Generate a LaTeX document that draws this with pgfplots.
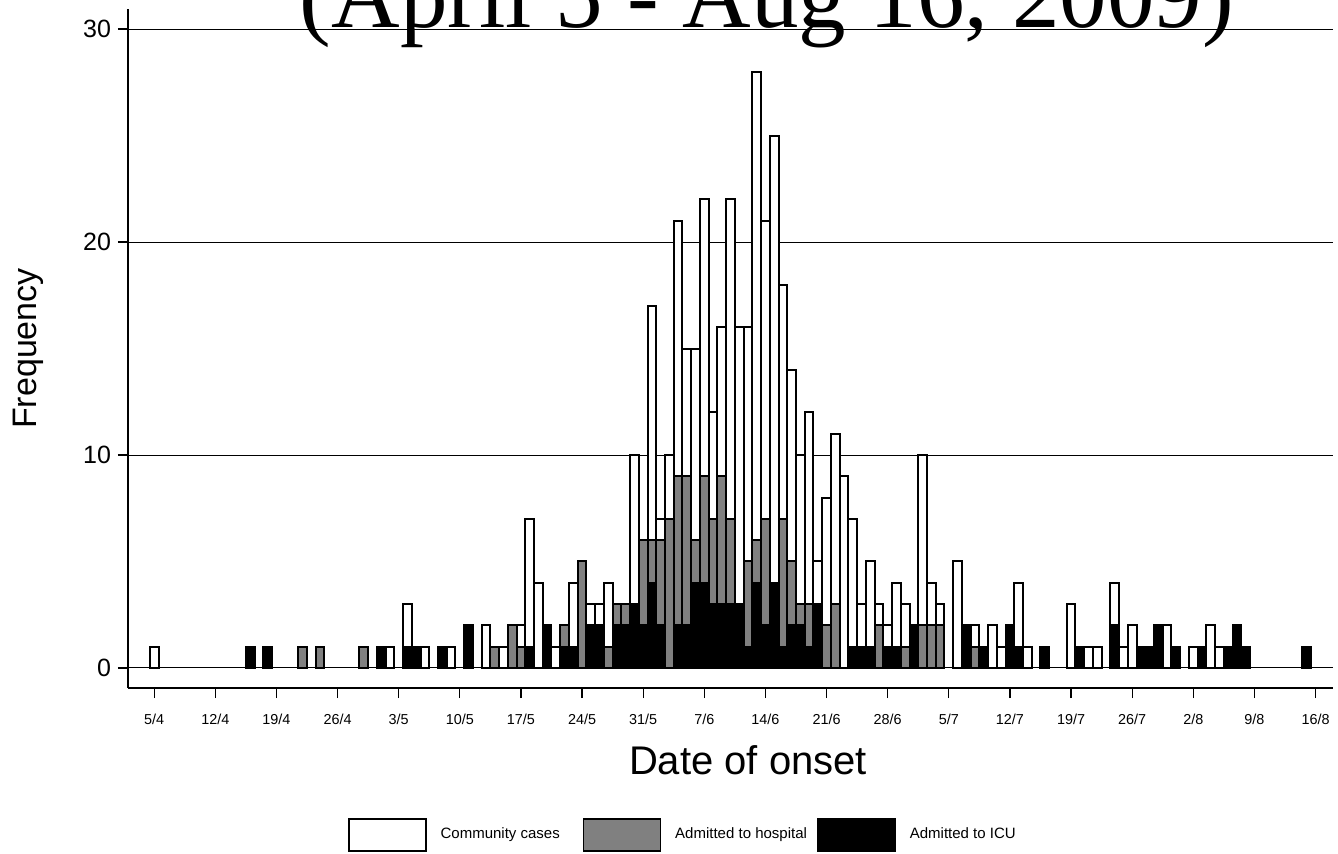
\documentclass[border=0pt]{standalone}
\usepackage{fontspec}
\setmainfont{Liberation Sans}
\newfontfamily\titlefont{Liberation Serif}
\usepackage{pgfplots}
\pgfplotsset{compat=1.18}
\definecolor{hospgray}{RGB}{128,128,128}
\begin{document}
\begin{tikzpicture}
\begin{axis}[
  at={(0,0)}, anchor=south west,
  scale only axis, width=602.5pt, height=339.5pt,
  xmin=-3, xmax=135, ymin=-0.94, ymax=30.94,
  axis x line*=bottom, axis y line*=left,
  axis line style={-, black, line width=0.65pt},
  xtick={0,7,...,133},
  xticklabels={5/4,12/4,19/4,26/4,3/5,10/5,17/5,24/5,31/5,7/6,14/6,21/6,28/6,5/7,12/7,19/7,26/7,2/8,9/8,16/8},
  ytick={0,10,20,30},
  ymajorgrids, grid style={black, line width=0.5pt},
  tick align=outside, major tick length=5pt,
  tick style={black, line width=0.65pt},
  x tick label style={font=\fontsize{7.2}{8}\selectfont, yshift=-4.5pt},
  y tick label style={font=\fontsize{12.5}{14}\selectfont},
  /pgf/number format/assume math mode=true,
  xlabel={Date of onset}, ylabel={Frequency},
  xlabel style={at={(axis description cs:0.5145,-0.106)}, anchor=center, font=\fontsize{20}{24}\selectfont},
  ylabel style={at={(axis description cs:-0.083,0.5)}, anchor=center, font=\fontsize{17}{20}\selectfont},
  legend style={at={(axis description cs:0.1826,-0.2165)}, anchor=west, draw=none, fill=none,
    inner sep=0pt, outer sep=0pt, legend columns=3, font=\fontsize{7.5}{9}\selectfont,
    /tikz/every odd column/.append style={column sep=5pt},
    /tikz/every even column/.append style={column sep=0pt}},
  legend cell align=left,
  legend image code/.code={\draw[#1, line width=0.8pt] (0pt,-8pt) rectangle (38.5pt,8pt);},
]
\addplot[ybar, bar width=1, bar shift=0pt, fill=white, draw=black, line width=1pt] coordinates {
(0,1) (11,1) (13,1) (17,1) (19,1) (24,1) (26,1) (27,1) (29,3) (30,1) (31,1) (33,1) (34,1) (36,2) (38,2) (39,1) (40,1) (41,2) (42,2) (43,7) (44,4) (45,2) (46,1) (47,2) (48,4) (49,5) (50,3) (51,3) (52,4) (53,3) (54,3) (55,10) (56,6) (57,17) (58,7) (59,10) (60,21) (61,15) (62,15) (63,22) (64,12) (65,16) (66,22) (67,16) (68,16) (69,28) (70,21) (71,25) (72,18) (73,14) (74,10) (75,12) (76,5) (77,8) (78,11) (79,9) (80,7) (81,3) (82,5) (83,3) (84,2) (85,4) (86,3) (87,2) (88,10) (89,4) (90,3) (92,5) (93,2) (94,2) (95,1) (96,2) (97,1) (98,2) (99,4) (100,1) (102,1) (105,3) (106,1) (107,1) (108,1) (110,4) (111,1) (112,2) (113,1) (114,1) (115,2) (116,2) (117,1) (119,1) (120,1) (121,2) (122,1) (123,1) (124,2) (125,1) (132,1)
};
\addlegendentry{\makebox[69pt][l]{Community cases}}
\addplot[ybar, bar width=1, bar shift=0pt, fill=hospgray, draw=black, line width=1pt] coordinates {
(11,1) (13,1) (17,1) (19,1) (24,1) (26,1) (29,1) (30,1) (33,1) (36,2) (39,1) (41,2) (42,1) (43,1) (45,2) (47,2) (48,1) (49,5) (50,2) (51,2) (52,1) (53,3) (54,3) (55,3) (56,6) (57,6) (58,6) (59,7) (60,9) (61,9) (62,6) (63,9) (64,7) (65,9) (66,7) (67,3) (68,5) (69,6) (70,7) (71,4) (72,7) (73,5) (74,3) (75,3) (76,3) (77,2) (78,3) (80,1) (81,1) (82,1) (83,2) (84,1) (85,1) (86,1) (87,2) (88,2) (89,2) (90,2) (93,2) (94,1) (95,1) (98,2) (99,1) (102,1) (106,1) (110,2) (113,1) (114,1) (115,2) (117,1) (120,1) (123,1) (124,2) (125,1) (132,1)
};
\addlegendentry{\makebox[69pt][l]{Admitted to hospital}}
\addplot[ybar, bar width=1, bar shift=0pt, fill=black, draw=black, line width=1pt] coordinates {
(11,1) (13,1) (26,1) (29,1) (30,1) (33,1) (36,2) (43,1) (45,2) (47,1) (48,1) (50,2) (51,2) (53,2) (54,2) (55,3) (56,2) (57,4) (58,2) (60,2) (61,2) (62,4) (63,4) (64,3) (65,3) (66,3) (67,3) (68,1) (69,4) (70,2) (71,4) (72,1) (73,2) (74,2) (75,1) (76,3) (80,1) (81,1) (82,1) (84,1) (85,1) (87,2) (93,2) (95,1) (98,2) (99,1) (102,1) (106,1) (110,2) (113,1) (114,1) (115,2) (117,1) (120,1) (123,1) (124,2) (125,1) (132,1)
};
\addlegendentry{\makebox[69pt][l]{Admitted to ICU}}
\end{axis}
\node[anchor=base, inner sep=0pt, font=\titlefont\fontsize{47.5}{50}\selectfont] at (319.5pt,330pt) {(April 5 - Aug 16, 2009)};
\pgfresetboundingbox
\path[use as bounding box] (-64pt,-82.5pt) rectangle (605pt,344pt);
\end{tikzpicture}
\end{document}
